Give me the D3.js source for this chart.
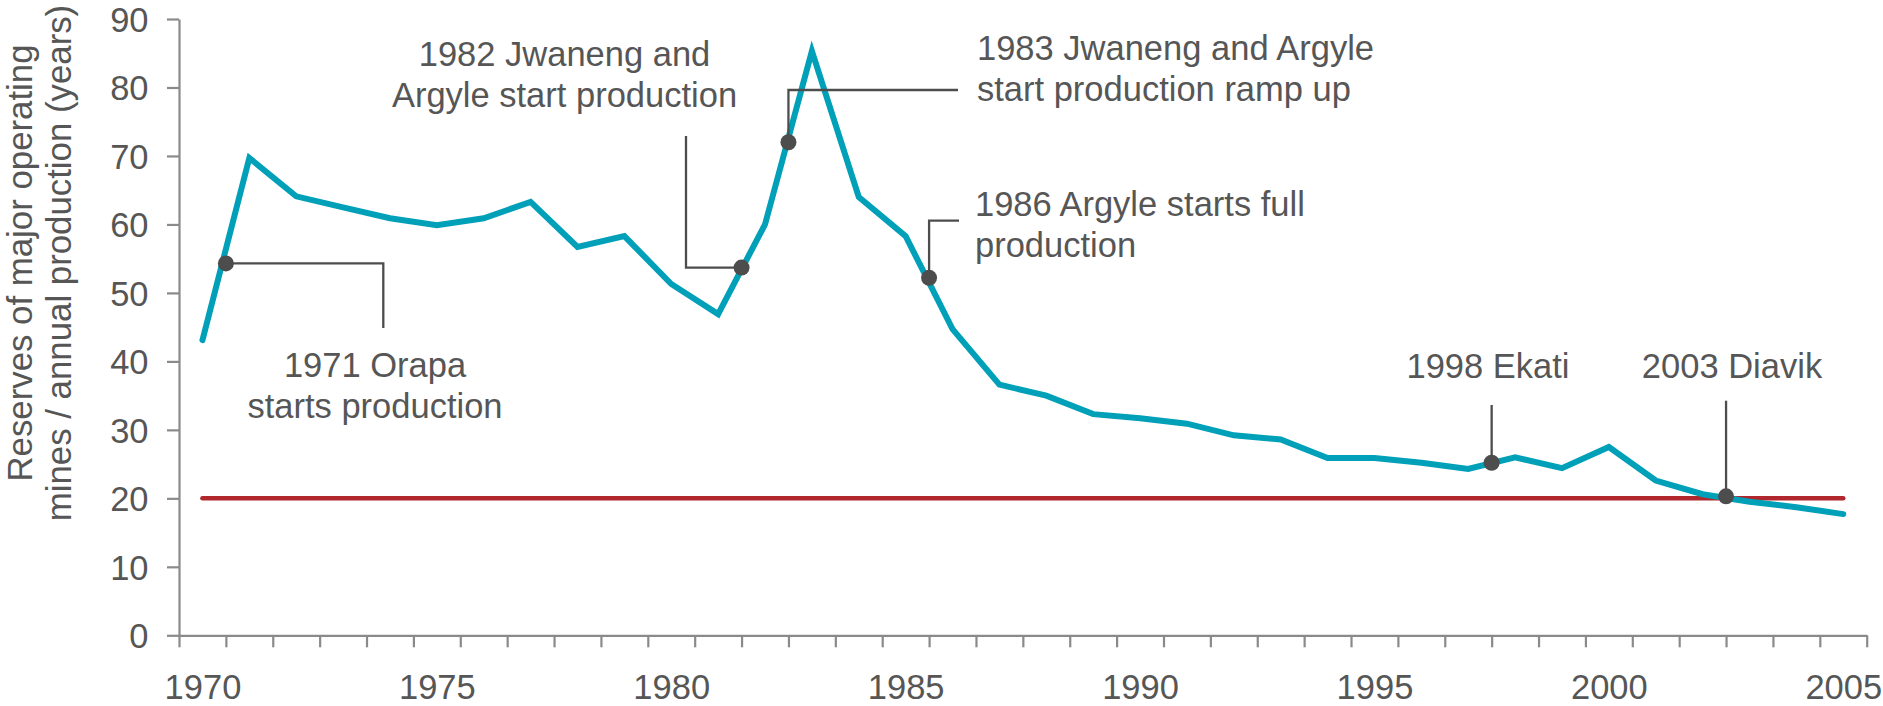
<!DOCTYPE html>
<html>
<head>
<meta charset="utf-8">
<script src="https://cdn.jsdelivr.net/npm/d3@7"></script>
<style>
  html, body { margin: 0; padding: 0; background: #fff; }
  svg { display: block; font-family: "Liberation Sans", Arial, Helvetica, sans-serif; }
</style>
</head>
<body>
<svg id="chart" width="1883" height="706"></svg>
<script>
// Reserve life of major operating diamond mines, 1970-2005
const years = d3.range(1970, 2006);
const reserveYears = [
  43.1, 69.7, 64.1, 62.5, 60.9, 59.9, 60.9, 63.3, 56.7, 58.3,
  51.3, 46.9, 60.0, 85.3, 64.0, 58.3, 44.7, 36.6, 35.0, 32.3,
  31.7, 30.9, 29.2, 28.6, 25.9, 25.9, 25.2, 24.3, 26.0, 24.4,
  27.5, 22.6, 20.6, 19.5, 18.7, 17.7
];
const thresholdValue = 20;

const yTickValues = [0, 10, 20, 30, 40, 50, 60, 70, 80, 90];
const xLabelYears = [1970, 1975, 1980, 1985, 1990, 1995, 2000, 2005];

const yTitleLines = ["Reserves of major operating", "mines / annual production (years)"];

// Mine events, each marked where its year begins
const eventYears = [1971, 1982, 1983, 1986, 1998, 2003];
const eventValues = [54.3, 53.7, 72.0, 52.2, 25.2, 20.3];
const eventTexts = [
  ["1971 Orapa", "starts production"],
  ["1982 Jwaneng and", "Argyle start production"],
  ["1983 Jwaneng and Argyle", "start production ramp up"],
  ["1986 Argyle starts full", "production"],
  ["1998 Ekati"],
  ["2003 Diavik"]
];

// ---- layout ----
const svg = d3.select("#chart");
const plotLeft = 179, plotRight = 1866.7, plotTop = 19, plotBottom = 635.3;

const x = d3.scaleLinear().domain([1969.5, 2005.5]).range([plotLeft, plotRight]);
const y = d3.scaleLinear().domain([0, 90]).range([plotBottom, plotTop]);

const axisColor = "#8a8a8a";
const textColor = "#565656";
const noteColor = "#4d4d4d";

// y axis
const gy = svg.append("g")
  .attr("transform", `translate(${plotLeft},0)`)
  .call(d3.axisLeft(y).tickValues(yTickValues).tickSizeInner(12).tickSizeOuter(0).tickPadding(18.5));
gy.select(".domain").attr("stroke", axisColor).attr("stroke-width", 2.2);
gy.selectAll(".tick line").attr("stroke", axisColor).attr("stroke-width", 2.2);
gy.selectAll(".tick text")
  .attr("fill", textColor).attr("font-size", 34.5)
  .attr("font-family", "Liberation Sans, Arial, sans-serif")
  .attr("dy", "0.36em");

// x axis: year boundaries as ticks, labels at year centres
const gx = svg.append("g")
  .attr("transform", `translate(0,${plotBottom})`)
  .call(d3.axisBottom(x).tickValues(d3.range(1969.5, 2006, 1)).tickFormat("").tickSizeInner(12).tickSizeOuter(0));
gx.select(".domain").attr("stroke", axisColor).attr("stroke-width", 2.2);
gx.selectAll(".tick line").attr("stroke", axisColor).attr("stroke-width", 2.2);

const gxl = svg.append("g")
  .attr("transform", `translate(0,${plotBottom})`)
  .call(d3.axisBottom(x).tickValues(xLabelYears).tickFormat(d3.format("d")).tickSize(0).tickPadding(39));
gxl.select(".domain").remove();
gxl.selectAll(".tick text")
  .attr("fill", textColor).attr("font-size", 34.5)
  .attr("font-family", "Liberation Sans, Arial, sans-serif");

// y axis title
const yTitle = svg.append("text")
  .attr("transform", "translate(0,263) rotate(-90)")
  .attr("text-anchor", "middle")
  .attr("fill", textColor)
  .attr("font-size", 34.8);
yTitle.selectAll("tspan").data(yTitleLines).join("tspan")
  .attr("x", 0)
  .attr("y", (d, i) => 32 + i * 39)
  .text(d => d);

// 20-year threshold
svg.append("path")
  .datum(years)
  .attr("fill", "none")
  .attr("stroke", "#b0282d")
  .attr("stroke-width", 4.5)
  .attr("stroke-linecap", "round")
  .attr("d", d3.line().x(d => x(d)).y(() => y(thresholdValue)));

// reserve life series
svg.append("path")
  .datum(years.map((yr, i) => ({ yr, v: reserveYears[i] })))
  .attr("fill", "none")
  .attr("stroke", "#00a0b9")
  .attr("stroke-width", 6)
  .attr("stroke-linecap", "round")
  .attr("stroke-linejoin", "miter")
  .attr("stroke-miterlimit", 10)
  .attr("d", d3.line().x(d => x(d.yr)).y(d => y(d.v)));

// annotation placement (pixels): leader bends/ends and text anchor
const noteLayout = [
  { leader: p => [[383.3, p[1]], [383.3, 328]],   tx: 375,  ty: 377, anchor: "middle" },
  { leader: p => [[686, p[1]], [686, 136]],       tx: 564.5, ty: 66, anchor: "middle" },
  { leader: p => [[p[0], 90], [958, 90]],         tx: 977,  ty: 60,  anchor: "start" },
  { leader: p => [[p[0], 220.7], [959, 220.7]],   tx: 975,  ty: 216, anchor: "start" },
  { leader: p => [[p[0], 405]],                   tx: 1488, ty: 378, anchor: "middle" },
  { leader: p => [[p[0], 400.7]],                 tx: 1732, ty: 378, anchor: "middle" }
];

const notes = eventYears.map((yr, i) => ({
  pt: [x(yr - 0.5), y(eventValues[i])],
  lines: eventTexts[i],
  layout: noteLayout[i]
}));

const gn = svg.append("g");
gn.selectAll("path.leader").data(notes).join("path")
  .attr("class", "leader")
  .attr("fill", "none")
  .attr("stroke", noteColor)
  .attr("stroke-width", 2.3)
  .attr("d", d => d3.line()([d.pt, ...d.layout.leader(d.pt)]));

gn.selectAll("circle").data(notes).join("circle")
  .attr("cx", d => d.pt[0])
  .attr("cy", d => d.pt[1])
  .attr("r", 8)
  .attr("fill", noteColor);

const labels = gn.selectAll("text").data(notes).join("text")
  .attr("text-anchor", d => d.layout.anchor)
  .attr("fill", textColor)
  .attr("font-size", 34.5);
labels.selectAll("tspan").data(d => d.lines.map(t => ({ t, d }))).join("tspan")
  .attr("x", o => o.d.layout.tx)
  .attr("y", (o, i) => o.d.layout.ty + i * 41)
  .text(o => o.t);
</script>
</body>
</html>
